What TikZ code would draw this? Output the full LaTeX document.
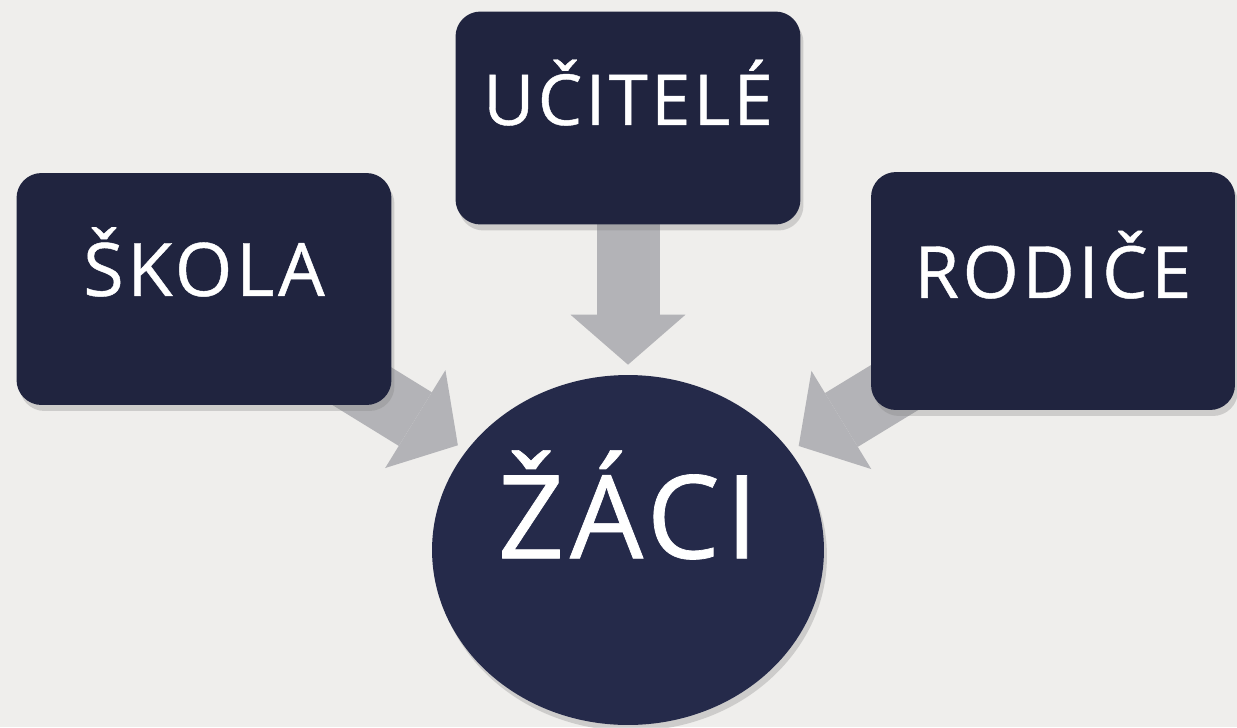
\documentclass[tikz,border=0pt]{standalone}
\usepackage{fontspec}
\setmainfont{Open Sans}
\newfontfamily\tilefont{Open Sans}[LetterSpace=5,FakeBold=0.6]
\usepackage{tikz}
\usetikzlibrary{arrows.meta,backgrounds,shapes.geometric,shadows}
\definecolor{paper}{HTML}{EFEEEC}
\definecolor{navy}{HTML}{20243F}
\definecolor{navydisc}{HTML}{252A4A}
\definecolor{steel}{HTML}{B3B3B7}

\begin{document}
\begin{tikzpicture}[x=0.02cm,y=-0.02cm,
  tile/.style={fill=navy,rounded corners=0.5cm,text=white,inner sep=0pt,
    text height=1.14em,text depth=0.35em,
    drop shadow={opacity=0.3,shadow xshift=0.06cm,shadow yshift=-0.12cm}},
  disc/.style={ellipse,fill=navydisc,text=white,inner sep=0pt,
    text height=1.3em,text depth=0.35em,
    drop shadow={opacity=0.3,shadow xshift=0.06cm,shadow yshift=-0.12cm}},
  feed/.style={draw=steel,line width=1.26cm,shorten >=0.2cm,
    -{Triangle[line width=0pt,length=1cm,width=2.3cm]}}]
\useasboundingbox (0,0) rectangle (1237,727);
\begin{scope}[on background layer]
\fill[paper] (0,0) rectangle (1237,727);
\end{scope}

\node[tile,minimum width=7.5cm,minimum height=4.64cm,font=\tilefont\fontsize{42}{50}\selectfont]
  (skola) at (204,289) {ŠKOLA};
\node[tile,minimum width=6.9cm,minimum height=4.26cm,font=\tilefont\fontsize{40}{48}\selectfont]
  (ucitele) at (628,118) {UČITELÉ};
\node[tile,minimum width=7.28cm,minimum height=4.76cm,font=\tilefont\fontsize{41}{49}\selectfont]
  (rodice) at (1053,291) {RODIČE};
\node[disc,minimum width=7.84cm,minimum height=7cm,font=\tilefont\fontsize{66}{78}\selectfont]
  (zaci) at (628,550) {ŽÁCI};

% arrows behind the tiles
\begin{scope}[on background layer]
\draw[feed] (skola.center) -- (zaci);
\draw[feed] (ucitele.center) -- (zaci);
\draw[feed] (rodice.center) -- (zaci);
\end{scope}
\end{tikzpicture}
\end{document}
